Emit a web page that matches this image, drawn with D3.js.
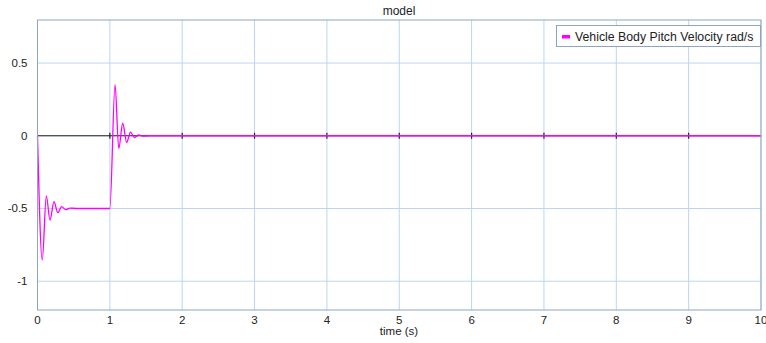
<!DOCTYPE html>
<html>
<head>
<meta charset="utf-8">
<script src="https://cdn.jsdelivr.net/npm/d3@7"></script>
<style>
  body { margin: 0; background: #fff; }
  text { font-family: "Liberation Sans", Arial, sans-serif; fill: #222; }
</style>
</head>
<body>
<svg id="chart" width="766" height="343"></svg>
<script>
// time axis (s) and pitch velocity (rad/s)
const timeS = [0, 0.066, 0.122, 0.173, 0.228, 0.28, 0.334, 0.39, 0.45, 0.55,
  1.0, 1.072, 1.123, 1.178, 1.233, 1.285, 1.34, 1.40, 1.45, 1.55, 10];
const pitchVel = [0, -0.854, -0.414, -0.58, -0.453, -0.529, -0.487, -0.508, -0.497, -0.5,
  -0.5, 0.352, -0.088, 0.086, -0.045, 0.025, -0.012, 0.006, -0.003, 0, 0];
const xTicks = [0, 1, 2, 3, 4, 5, 6, 7, 8, 9, 10];
const yTicks = [-1, -0.5, 0, 0.5];
const seriesName = "Vehicle Body Pitch Velocity rad/s";

const svg = d3.select("#chart");
const plotL = 37.5, plotR = 761, plotT = 20, plotB = 310;

const x = d3.scaleLinear().domain([0, 10]).range([plotL, plotR]);
const y = d3.scaleLinear().domain([-1.198, 0.796]).range([plotB, plotT]);

// grid
svg.append("g").selectAll("line").data(xTicks).join("line")
  .attr("x1", d => x(d)).attr("x2", d => x(d))
  .attr("y1", plotT).attr("y2", plotB)
  .attr("stroke", "#bcd6f2").attr("stroke-width", 1);
svg.append("g").selectAll("line").data(yTicks).join("line")
  .attr("x1", plotL).attr("x2", plotR)
  .attr("y1", d => y(d)).attr("y2", d => y(d))
  .attr("stroke", "#bcd6f2").attr("stroke-width", 1);

// zero axis with small ticks
svg.append("line")
  .attr("x1", plotL).attr("x2", plotR)
  .attr("y1", y(0)).attr("y2", y(0))
  .attr("stroke", "#222").attr("stroke-width", 1);
svg.append("g").selectAll("line").data(xTicks.slice(1, -1)).join("line")
  .attr("x1", d => x(d)).attr("x2", d => x(d))
  .attr("y1", y(0) - 3).attr("y2", y(0) + 3)
  .attr("stroke", "#222").attr("stroke-width", 1.2);

// data line
const pts = timeS.map((t, i) => [t, pitchVel[i]]);
svg.append("path")
  .datum(pts)
  .attr("fill", "none")
  .attr("stroke", "#ff00ff")
  .attr("stroke-width", 1.3)
  .attr("d", d3.line().x(d => x(d[0])).y(d => y(d[1])).curve(d3.curveMonotoneX));

// frame
svg.append("rect")
  .attr("x", plotL).attr("y", plotT)
  .attr("width", plotR - plotL).attr("height", plotB - plotT)
  .attr("fill", "none").attr("stroke", "#8ea5c2").attr("stroke-width", 1);

// tick labels
svg.append("g").selectAll("text").data(xTicks).join("text")
  .attr("x", d => x(d)).attr("y", 324)
  .attr("text-anchor", "middle")
  .style("font-size", "11.5px")
  .text(d => d);
svg.append("g").selectAll("text").data(yTicks).join("text")
  .attr("x", 27.5).attr("y", d => y(d) + 4)
  .attr("text-anchor", "end")
  .style("font-size", "11.5px")
  .text(d => d);

// titles
svg.append("text").attr("x", 399).attr("y", 15)
  .attr("text-anchor", "middle").style("font-size", "12px").text("model");
svg.append("text").attr("x", 399).attr("y", 335)
  .attr("text-anchor", "middle").style("font-size", "11.5px").text("time (s)");

// legend
const lg = svg.append("g");
lg.append("rect")
  .attr("x", 556.5).attr("y", 25.5).attr("width", 204).attr("height", 21)
  .attr("fill", "#fff").attr("stroke", "#8ea5c2");
lg.append("rect")
  .attr("x", 562).attr("y", 35).attr("width", 8).attr("height", 3.5)
  .attr("fill", "#ff00ff");
lg.append("text").attr("x", 575).attr("y", 40.5)
  .style("font-size", "12.3px").text(seriesName);
</script>
</body>
</html>
